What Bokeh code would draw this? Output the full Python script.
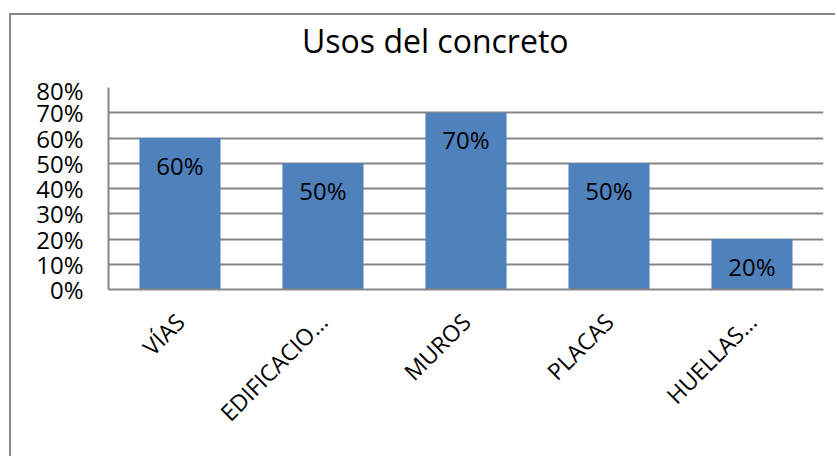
from bokeh.plotting import figure
from bokeh.models import ColumnDataSource, NumeralTickFormatter, FixedTicker, Div
from bokeh.layouts import column
from bokeh.core.properties import value
from bokeh.embed import file_html
from bokeh.resources import INLINE
import math

# ---- data ----
categories = ["VÍAS", "EDIFICACIO…", "MUROS", "PLACAS", "HUELLAS…"]
values = [0.60, 0.50, 0.70, 0.50, 0.20]
y_ticks = [0.0, 0.1, 0.2, 0.3, 0.4, 0.5, 0.6, 0.7, 0.8]
title_text = "Usos del concreto"

FONT = "Open Sans"
GRAY = "#868686"
BLUE = "#4F81BD"

labels = [f"{round(v * 100)}%" for v in values]
src = ColumnDataSource(dict(cat=categories, val=values, lab=labels))

title_div = Div(
    text=(f'<div style="font-family:\'{FONT}\';font-size:32px;line-height:32px;'
          f'color:black;padding-left:291px;padding-top:10px;white-space:nowrap;">'
          f'{title_text}</div>'),
    width=826, height=58, margin=(0, 0, 0, 0),
)

p = figure(
    x_range=categories, y_range=(0, 0.8),
    width=826, height=385,
    output_backend="svg", toolbar_location=None,
    min_border_left=97, min_border_right=14,
    min_border_top=14, min_border_bottom=169,
)
p.margin = (0, 0, 0, 0)
p.outline_line_color = None
p.background_fill_color = "white"
p.border_fill_color = "white"

p.vbar(x="cat", top="val", width=0.567, source=src,
       fill_color=BLUE, line_color=None)

p.text(x="cat", y="val", text="lab", source=src, y_offset=27,
       text_align="center", text_baseline="middle",
       text_font=value(FONT), text_font_size="24px", text_color="black")

# grid
p.xgrid.grid_line_color = None
p.ygrid.grid_line_color = GRAY
p.ygrid.grid_line_width = 2
p.ygrid.ticker = FixedTicker(ticks=y_ticks)

# y axis
p.yaxis.ticker = FixedTicker(ticks=y_ticks)
p.yaxis.formatter = NumeralTickFormatter(format="0%")
p.yaxis.axis_line_color = GRAY
p.yaxis.axis_line_width = 2
p.yaxis.major_tick_line_color = None
p.yaxis.minor_tick_line_color = None
p.yaxis.major_label_standoff = 19
p.yaxis.major_label_text_font = FONT
p.yaxis.major_label_text_font_size = "24px"
p.yaxis.major_label_text_color = "black"

# x axis
p.xaxis.axis_line_color = GRAY
p.xaxis.axis_line_width = 2
p.xaxis.major_tick_line_color = None
p.xaxis.minor_tick_line_color = None
p.xaxis.major_label_orientation = math.pi / 4
p.xaxis.major_label_standoff = 22
p.xaxis.major_label_text_font = FONT
p.xaxis.major_label_text_font_size = "23px"
p.xaxis.major_label_text_color = "black"

layout = column(title_div, p, spacing=0)
layout.margin = (15, 0, 0, 11)
layout.styles = {"box-shadow": "-2px -2px 0 0 #878787", "background-color": "white"}

open("out.html", "w").write(file_html(layout, INLINE))
